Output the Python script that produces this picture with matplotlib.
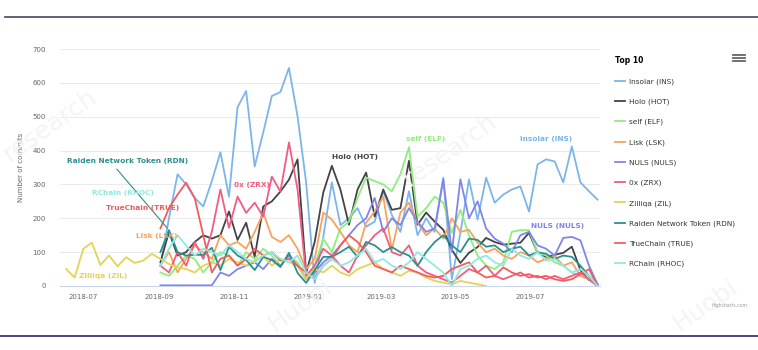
import matplotlib
matplotlib.use("Agg")
import matplotlib.pyplot as plt
import matplotlib.dates as mdates
from matplotlib.lines import Line2D
import numpy as np
import pandas as pd

# weekly commit counts, first week 2018-06-17
dates = pd.date_range("2018-06-17", periods=63, freq="7D")
nan = np.nan
pre = [nan] * 11  # series that start in Sept 2018

insolar = pre + [60, 200, 330, 300, 260, 235, 310, 395, 264, 528, 576, 353, 454, 561, 573, 644,
                 501, 306, 9, 145, 306, 180, 200, 230, 175, 190, 280, 210, 160, 280, 150, 200,
                 160, 320, 20, 157, 315, 196, 320, 246, 270, 285, 294, 220, 359, 374, 368, 306,
                 412, 306, 280, 255]
holo = pre + [70, 160, 90, 100, 130, 150, 140, 150, 220, 136, 187, 86, 235, 250, 279, 314,
              374, 39, 130, 276, 355, 285, 181, 285, 335, 205, 285, 225, 230, 370, 181, 217,
              190, 166, 107, 68, 98, 115, 142, 130, 122, 125, 128, 157, 98, 86, 92, 98,
              116, 47, 18, 5]
self_elf = pre + [40, 30, 60, 90, 80, 40, 70, 100, 90, 60, 100, 80, 110, 90, 60, 90,
                  70, 20, 60, 140, 100, 170, 190, 260, 320, 310, 300, 280, 330, 410, 205, 230,
                  264, 246, 157, 225, 150, 90, 60, 50, 70, 160, 165, 165, 98, 90, 70, 60,
                  40, 30, 20, 0]
lisk = pre + [60, 100, 40, 80, 120, 100, 80, 150, 120, 130, 110, 160, 216, 145, 130, 150,
              110, 50, 80, 217, 196, 160, 120, 100, 187, 220, 264, 107, 217, 246, 187, 150,
              170, 140, 200, 160, 166, 128, 100, 110, 90, 80, 100, 90, 70, 80, 90, 60,
              70, 30, 20, 0]
nuls = pre + [2, 2, 2, 2, 2, 2, 2, 40, 30, 50, 60, 70, 50, 80, 60, 90,
              60, 20, 40, 70, 90, 120, 150, 180, 200, 260, 160, 200, 180, 230, 190, 160,
              170, 315, 100, 315, 200, 250, 170, 140, 125, 100, 150, 160, 120, 110, 90, 142,
              145, 135, 60, 5]
zrx = pre + [60, 40, 100, 60, 130, 80, 160, 285, 172, 264, 216, 246, 205, 323, 279, 424,
             285, 30, 60, 110, 90, 60, 40, 90, 120, 150, 170, 100, 90, 120, 60, 40,
             30, 20, 10, 30, 50, 40, 60, 30, 20, 30, 40, 25, 30, 20, 30, 20,
             30, 40, 20, 0]
zilliqa = [50, 25, 110, 128, 62, 90, 58, 85, 68, 75, 95, 80, 65, 55, 50, 40,
           60, 70, 60, 80, 70, 60, 75, 90, 60, 80, 70, 60, 20, 50, 40, 60,
           40, 30, 50, 60, 70, 50, 40, 30, 45, 40, 25, 15, 10, 5, 15, 10,
           5, 0] + [nan] * 13
raiden = pre + [100, 165, 100, 90, 92, 92, 113, 47, 116, 90, 77, 47, 86, 77, 56, 98,
                39, 9, 47, 86, 86, 100, 116, 86, 130, 120, 100, 115, 100, 90, 60, 100,
                130, 150, 120, 100, 140, 136, 116, 120, 100, 110, 116, 90, 100, 95, 80, 90,
                86, 60, 30, 0]
truechain = pre + [170, 230, 270, 305, 260, 150, 40, 80, 90, 60, 80, 110, 90, 100, 75, 80,
                   60, 40, 20, 60, 80, 120, 150, 130, 100, 60, 50, 40, 60, 50, 40, 30,
                   25, 30, 50, 60, 70, 40, 25, 30, 55, 40, 30, 35, 25, 30, 20, 15,
                   20, 35, 50, 0]
rchain = pre + [60, 110, 150, 120, 90, 110, 100, 90, 120, 100, 80, 70, 90, 100, 80, 70,
                90, 40, 20, 60, 80, 60, 70, 90, 110, 70, 80, 60, 50, 70, 100, 80,
                60, 40, 0, 50, 60, 80, 90, 70, 60, 110, 90, 80, 100, 75, 80, 60,
                40, 50, 30, 0]

names = ["Insolar (INS)", "Holo (HOT)", "self (ELF)", "Lisk (LSK)", "NULS (NULS)",
         "0x (ZRX)", "Zilliqa (ZIL)", "Raiden Network Token (RDN)", "TrueChain (TRUE)",
         "RChain (RHOC)"]
series = [insolar, holo, self_elf, lisk, nuls, zrx, zilliqa, raiden, truechain, rchain]
colors = ["#7cb5ec", "#434348", "#90ed7d", "#f7a35c", "#8085e9",
          "#f15c80", "#e4d354", "#2b908f", "#f45b5b", "#91e8e1"]

W, H = 758, 350
fig = plt.figure(figsize=(W / 100, H / 100), dpi=100)
ax = fig.add_axes([60 / W, 1 - 286 / H, 540 / W, 237 / H])

# faint watermarks
for (wx, wy, wt) in [(50, 125, "research"), (450, 150, "research"),
                     (300, 305, "Huobi"), (705, 305, "Huobi")]:
    fig.text(wx / W, 1 - wy / H, wt, fontsize=18, color="#f4f4f4", rotation=35,
             ha="center", va="center", zorder=0)

for vals, name, c in zip(series, names, colors):
    ax.plot(dates, vals, color=c, lw=1.3, label=name)

ax.set_ylim(0, 700)
ax.set_yticks(range(0, 701, 100))
ax.set_xlim(pd.Timestamp("2018-06-12"), pd.Timestamp("2019-08-27"))
ax.xaxis.set_major_locator(mdates.MonthLocator(bymonth=[1, 3, 5, 7, 9, 11]))
ax.xaxis.set_major_formatter(mdates.DateFormatter("%Y-%m"))
ax.grid(axis="y", color="#e6e6e6", lw=0.6)
ax.set_axisbelow(True)
for s in ["top", "right", "left"]:
    ax.spines[s].set_visible(False)
ax.spines["bottom"].set_color("#ccd6eb")
ax.tick_params(axis="both", length=0, labelsize=5, labelcolor="#666666")
ax.tick_params(axis="x", pad=6)
ax.tick_params(axis="y", pad=10)
ax.patch.set_alpha(0)
ax.set_ylabel("Number of commits", fontsize=5, color="#666666", labelpad=6)

# series labels on the plot
labels = [("Raiden Network Token (RDN)", 67, 161, "#2b908f"),
          ("RChain (RHOC)", 92, 193, "#91e8e1"),
          ("TrueChain (TRUE)", 106, 208, "#f45b5b"),
          ("Lisk (LSK)", 136, 236, "#f7a35c"),
          ("Zilliqa (ZIL)", 79, 276, "#e4d354"),
          ("0x (ZRX)", 234, 185, "#f15c80"),
          ("Holo (HOT)", 332, 157, "#434348"),
          ("self (ELF)", 406, 139, "#90ed7d"),
          ("Insolar (INS)", 520, 139, "#7cb5ec"),
          ("NULS (NULS)", 531, 226, "#8085e9")]
for t, lx, ly, c in labels:
    fig.text(lx / W, 1 - ly / H, t, fontsize=5.3, color=c, fontweight="bold",
             ha="left", va="center")
ax.annotate("", xy=(dates[12], raiden[12]), xytext=(115 / W, 1 - 167 / H),
            textcoords="figure fraction",
            arrowprops=dict(arrowstyle="-", color="#2b908f", lw=0.8))

leg = ax.legend(loc="upper left", bbox_to_anchor=(608 / W, 1 - 49 / H),
                bbox_transform=fig.transFigure, frameon=False, fontsize=5.3,
                labelspacing=1.85, handlelength=1.4, handletextpad=0.6,
                title="Top 10", alignment="left")
leg.get_title().set_fontsize(5.5)
leg.get_title().set_fontweight("bold")
for txt in leg.get_texts():
    txt.set_color("#333333")

# menu icon
for yy in (55, 58, 61):
    fig.add_artist(Line2D([733 / W, 745 / W], [1 - yy / H, 1 - yy / H],
                          color="#666666", lw=1.3))
fig.text(748 / W, 1 - 306 / H, "Highcharts.com", fontsize=3.3, color="#999999",
         ha="right", va="center")

# frame lines of the page
fig.add_artist(Line2D([5 / W, 1], [1 - 17 / H, 1 - 17 / H], color="#55556a", lw=1.3))
fig.add_artist(Line2D([0, 1], [1 - 336 / H, 1 - 336 / H], color="#3a3a78", lw=1.3))

fig.savefig("out.png", dpi=100)
